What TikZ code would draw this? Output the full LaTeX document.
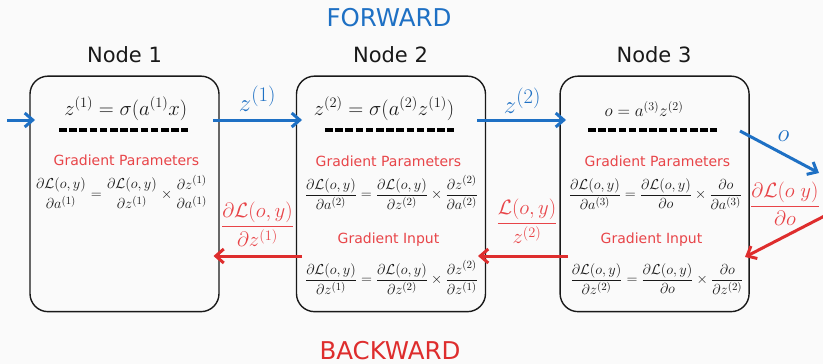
\documentclass[tikz,border=0pt]{standalone}
\usepackage{amsmath}
\usepackage[no-math]{fontspec}
\setmainfont{DejaVu Sans}
\usetikzlibrary{arrows.meta}

\definecolor{bg}{RGB}{250,250,250}
\definecolor{fblue}{RGB}{30,112,196}
\definecolor{bred}{RGB}{222,45,45}
\definecolor{lred}{RGB}{232,68,72}
\definecolor{ink}{RGB}{25,25,25}

\newcommand{\setsz}[1]{\fontsize{#1}{#1}\selectfont}
\newcommand{\barless}[2]{\genfrac{}{}{0pt}{0}{#1}{#2}}
\newcommand{\dLoss}{\partial\mathcal{L}(o,y)}

\begin{document}
\begin{tikzpicture}[x=1pt,y=-1pt,
  layer/.style={draw=ink, line width=1.4pt, rounded corners=18pt, fill=bg,
    minimum width=189pt, minimum height=235.5pt, inner sep=0pt},
  title/.style={anchor=base, inner sep=0pt, text=ink, font=\setsz{21}},
  banner/.style={anchor=base, inner sep=0pt, font=\setsz{24.5}},
  act/.style={anchor=base, inner sep=0pt, text=ink, font=\setsz{20}},
  grad/.style={anchor=base, inner sep=0pt, text=ink, font=\setsz{15}},
  gradtitle/.style={inner sep=0pt, text=lred, font=\setsz{14}},
  sep/.style={draw=black, line width=3.5pt, dash pattern=on 7.6pt off 2.6pt},
  fwd/.style={draw=fblue, line width=3pt, -{Straight Barb[length=8pt,width=14pt]}},
  bwd/.style={draw=bred, line width=3pt, -{Straight Barb[length=8pt,width=14pt]}},
  flabel/.style={anchor=base, inner sep=0pt, text=fblue, font=\setsz{30}},
  blabel/.style={inner sep=0pt, text=lred, font=\setsz{21}}]

\fill[bg] (0,0) rectangle (823,364);
\useasboundingbox (0,0) rectangle (823,364);

% direction banners
\node[banner, text=fblue] (fw) at (389,26.7) {FORWARD};
\node[banner, text=bred] (bw) at (390,359) {BACKWARD};

% the three layers
\node[layer] (n1) at (124.5,193.9) {};
\node[layer] (n2) at (391,193.9) {};
\node[layer] (n3) at (654.6,193.9) {};

\node[title] (t1) at (124.5,62.3) {Node 1};
\node[title] (t2) at (390.5,62.3) {Node 2};
\node[title] (t3) at (654,62.3) {Node 3};

% forward computations
\node[act] (e1) at (125.8,115) {$z^{(1)}=\sigma(a^{(1)}x)$};
\node[act] (e2) at (384,115) {$z^{(2)}=\sigma(a^{(2)}z^{(1)})$};
\node[act, font=\setsz{18.8}] (e3) at (644,116.5) {$o=a^{(3)}z^{(2)}$};

\draw[sep] (59,130) -- (188,130);
\draw[sep] (325,130) -- (454,130);
\draw[sep] (588,130) -- (717,130);

% parameter gradients
\node[gradtitle] (gp1) at (126.5,160) {Gradient Parameters};
\node[gradtitle] (gp2) at (388.5,161.5) {Gradient Parameters};
\node[gradtitle] (gp3) at (657.5,161) {Gradient Parameters};

\node[grad] (ge1) at (121.5,198.8)
  {$\displaystyle\barless{\dLoss}{\partial a^{(1)}}=\barless{\dLoss}{\partial z^{(1)}}\times\barless{\partial z^{(1)}}{\partial a^{(1)}}$};
\node[grad] (ge2) at (391.5,198.8)
  {$\displaystyle\frac{\dLoss}{\partial a^{(2)}}=\frac{\dLoss}{\partial z^{(2)}}\times\frac{\partial z^{(2)}}{\partial a^{(2)}}$};
\node[grad] (ge3) at (655.5,198.8)
  {$\displaystyle\frac{\dLoss}{\partial a^{(3)}}=\frac{\dLoss}{\partial o}\times\frac{\partial o}{\partial a^{(3)}}$};

% input gradients
\node[gradtitle] (gi2) at (388.5,240) {Gradient Input};
\node[gradtitle] (gi3) at (651.5,240) {Gradient Input};

\node[grad] (gq2) at (391.5,283.8)
  {$\displaystyle\frac{\dLoss}{\partial z^{(1)}}=\frac{\dLoss}{\partial z^{(2)}}\times\frac{\partial z^{(2)}}{\partial z^{(1)}}$};
\node[grad] (gq3) at (657,283.8)
  {$\displaystyle\frac{\dLoss}{\partial z^{(2)}}=\frac{\dLoss}{\partial o}\times\frac{\partial o}{\partial z^{(2)}}$};

% arrow end points
\coordinate (in0) at (7,120);
\coordinate (in1) at (35,120);
\coordinate (f1a) at (213,120);
\coordinate (f1b) at (302,120);
\coordinate (f2a) at (477,120);
\coordinate (f2b) at (566,120);
\coordinate (f3a) at (740,131);
\coordinate (f3b) at (819,173);
\coordinate (b3a) at (840,208);
\coordinate (b3b) at (745,257);
\coordinate (b2a) at (568,256);
\coordinate (b2b) at (478,256);
\coordinate (b1a) at (302,256);
\coordinate (b1b) at (213.5,256);

% forward pass
\draw[fwd] (in0) -- (in1);
\draw[fwd] (f1a) -- (f1b);
\draw[fwd] (f2a) -- (f2b);
\draw[fwd] (f3a) -- (f3b);
\node[flabel] (l1) at (257.5,111) {$z^{(1)}$};
\node[flabel] (l2) at (522.5,113) {$z^{(2)}$};
\node[flabel, font=\setsz{28}] (l3) at (783.5,141.5) {$o$};

% backward pass
\draw[bwd] (b3a) -- (b3b);
\draw[bwd] (b2a) -- (b2b);
\draw[bwd] (b1a) -- (b1b);
\node[blabel] (m1) at (257.5,224) {$\displaystyle\frac{\dLoss}{\partial z^{(1)}}$};
\node[blabel] (m2) at (527,221) {$\displaystyle\frac{\mathcal{L}(o,y)}{z^{(2)}}$};
\node[blabel] (m3) at (785,204) {$\displaystyle\frac{\partial\mathcal{L}(o\;y)}{\partial o}$};
\end{tikzpicture}
\end{document}
